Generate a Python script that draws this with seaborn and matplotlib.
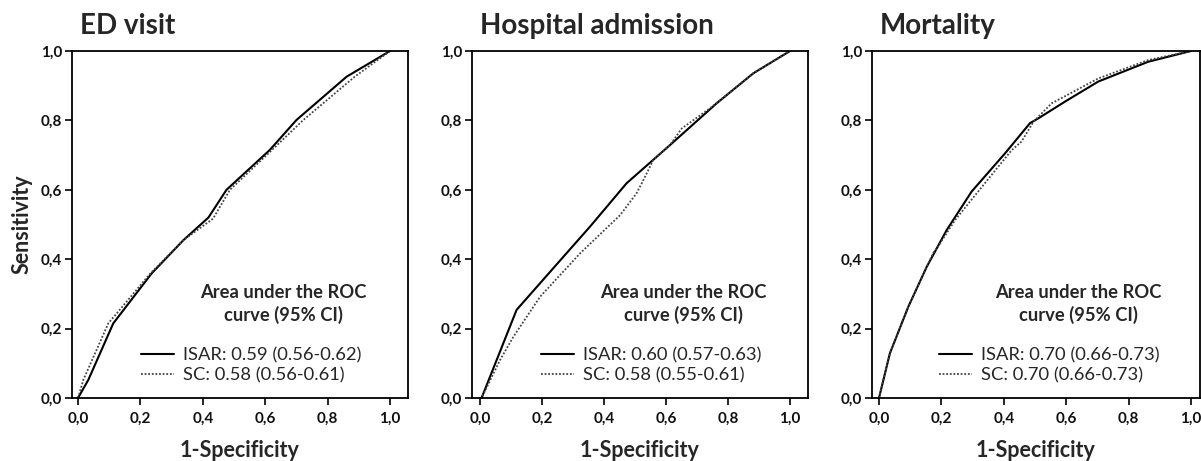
import numpy as np
import pandas as pd
import matplotlib
matplotlib.use("Agg")
import matplotlib.pyplot as plt
from matplotlib.ticker import FixedLocator, FuncFormatter
import seaborn as sns

# ROC points (1-specificity, sensitivity)
titles = ["ED visit", "Hospital admission", "Mortality"]

ed_isar_x = [0.0, 0.033, 0.113, 0.236, 0.338, 0.418, 0.476, 0.615, 0.70, 0.861, 1.0]
ed_isar_y = [0.0, 0.052, 0.215, 0.359, 0.455, 0.52, 0.60, 0.715, 0.801, 0.926, 1.0]
ed_sc_x = [0.0, 0.017, 0.097, 0.232, 0.338, 0.433, 0.487, 0.622, 0.722, 0.887, 1.0]
ed_sc_y = [0.0, 0.052, 0.215, 0.359, 0.455, 0.517, 0.60, 0.715, 0.801, 0.926, 1.0]

ha_isar_x = [0.0, 0.005, 0.054, 0.118, 0.269, 0.355, 0.473, 0.613, 0.763, 0.882, 1.0]
ha_isar_y = [0.0, 0.0, 0.11, 0.254, 0.407, 0.494, 0.619, 0.729, 0.849, 0.936, 1.0]
ha_sc_x = [0.0, 0.005, 0.065, 0.108, 0.194, 0.323, 0.452, 0.505, 0.527, 0.559, 0.613, 0.651, 0.742, 0.882, 1.0]
ha_sc_y = [0.0, 0.0, 0.11, 0.177, 0.292, 0.417, 0.527, 0.59, 0.628, 0.686, 0.729, 0.777, 0.835, 0.936, 1.0]

mo_isar_x = [0.0, 0.035, 0.094, 0.153, 0.217, 0.297, 0.404, 0.484, 0.511, 0.596, 0.703, 0.863, 1.0]
mo_isar_y = [0.0, 0.129, 0.263, 0.378, 0.484, 0.595, 0.705, 0.792, 0.806, 0.854, 0.912, 0.969, 1.0]
mo_sc_x = [0.0, 0.035, 0.094, 0.153, 0.174, 0.186, 0.244, 0.425, 0.457, 0.495, 0.553, 0.703, 0.863, 1.0]
mo_sc_y = [0.0, 0.129, 0.263, 0.378, 0.418, 0.432, 0.513, 0.714, 0.739, 0.796, 0.849, 0.921, 0.974, 1.0]

isar_labels = ["ISAR: 0.59 (0.56-0.62)", "ISAR: 0.60 (0.57-0.63)", "ISAR: 0.70 (0.66-0.73)"]
sc_labels = ["SC: 0.58 (0.56-0.61)", "SC: 0.58 (0.55-0.61)", "SC: 0.70 (0.66-0.73)"]
tick_values = [0.0, 0.2, 0.4, 0.6, 0.8, 1.0]

curves = [
    (ed_isar_x, ed_isar_y, ed_sc_x, ed_sc_y),
    (ha_isar_x, ha_isar_y, ha_sc_x, ha_sc_y),
    (mo_isar_x, mo_isar_y, mo_sc_x, mo_sc_y),
]

sns.set_theme(style="ticks")
plt.rcParams["font.family"] = ["Lato", "DejaVu Sans"]

fig = plt.figure(figsize=(12.01, 4.61), dpi=100)
# axes placement in pixels: left, right, xlim
boxes = [(72, 408, (-0.0192, 1.0577)), (472, 808, (-0.0258, 1.058)), (872, 1200, (-0.0224, 1.029))]
comma = FuncFormatter(lambda v, p: f"{v:.1f}".replace(".", ","))

for i, (left, right, xlim) in enumerate(boxes):
    ax = fig.add_axes([left / 1201, 1 - 398 / 461, (right - left) / 1201, 347 / 461])
    ix, iy, sx, sy = curves[i]
    sns.lineplot(x=ix, y=iy, ax=ax, color="black", linewidth=1.5,
                 estimator=None, sort=False, label=isar_labels[i])
    sns.lineplot(x=sx, y=sy, ax=ax, color="#444444", linewidth=1.3,
                 linestyle=(0, (1, 1)), estimator=None, sort=False, label=sc_labels[i])
    ax.set_xlim(*xlim)
    ax.set_ylim(0, 1)
    ax.xaxis.set_major_locator(FixedLocator(tick_values))
    ax.yaxis.set_major_locator(FixedLocator(tick_values))
    ax.xaxis.set_major_formatter(comma)
    ax.yaxis.set_major_formatter(comma)
    for s in ax.spines.values():
        s.set_visible(True)
        s.set_color("black")
        s.set_linewidth(1.3)
    ax.tick_params(axis="both", direction="out", length=5, width=1.2, color="black",
                   labelsize=11, labelcolor="#111111")
    ax.tick_params(axis="x", pad=5)
    ax.tick_params(axis="y", pad=2)
    for lab in ax.get_xticklabels() + ax.get_yticklabels():
        lab.set_fontweight("bold")
    ax.set_xlabel("1-Specificity", fontsize=15.5, fontweight="bold", labelpad=10)
    if i == 0:
        ax.set_ylabel("Sensitivity", fontsize=15.5, fontweight="bold", labelpad=6)
    else:
        ax.set_ylabel("")
    ax.text(0.025, 1.049, titles[i], transform=ax.transAxes, fontsize=20,
            fontweight="bold", ha="left", va="baseline")
    ax.text(0.63, 0.271, "Area under the ROC\ncurve (95% CI)", transform=ax.transAxes,
            fontsize=13.2, fontweight="bold", ha="center", va="center", linespacing=1.35)
    leg = ax.legend(loc="center left", bbox_to_anchor=(0.205, 0.095), frameon=False,
                    fontsize=13.2, handlelength=1.8, handletextpad=0.5,
                    labelspacing=0.2, borderpad=0, borderaxespad=0)

fig.savefig("out.png", dpi=100)
